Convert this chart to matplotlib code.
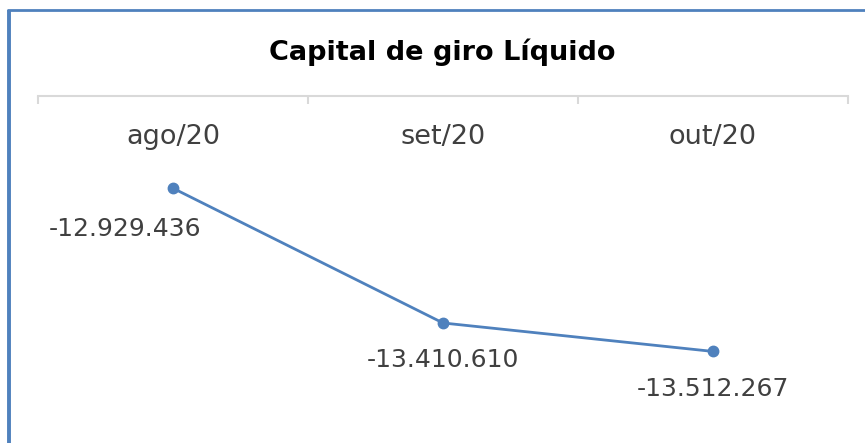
import matplotlib
matplotlib.use("Agg")
import matplotlib.pyplot as plt
from matplotlib.lines import Line2D

# --- data ---------------------------------------------------------------------
months = ["ago/20", "set/20", "out/20"]
values = [-12929436, -13410610, -13512267]
labels = ["-12.929.436", "-13.410.610", "-13.512.267"]
# label offsets in points (first one is pushed left, as in the original)
label_dx = [-34.5, 0, 0]
label_dy = [-29, -27, -27]

C_LINE = "#4F81BD"
C_TEXT = "#404040"
C_AXIS = "#D9D9D9"

W, H = 865, 443
fig = plt.figure(figsize=(W / 100, H / 100), dpi=100)
fig.patch.set_facecolor("white")

# plot area (pixel measures from the reference)
ax = fig.add_axes([38 / W, 1 - 432 / H, (848 - 38) / W, (432 - 96) / H])
x = list(range(len(months)))
ax.plot(x, values, "o-", color=C_LINE, lw=2.0, ms=7.5, zorder=3)

ax.set_xlim(-0.5, len(months) - 0.5)
ax.set_ylim(-13.8e6, -12.6e6)
ax.set_yticks([])

for side in ["left", "right", "bottom"]:
    ax.spines[side].set_visible(False)
ax.spines["top"].set_color(C_AXIS)
ax.spines["top"].set_linewidth(1.5)

# category labels under the top axis line
ax.xaxis.set_ticks_position("top")
ax.set_xticks(x)
ax.set_xticklabels(months, fontsize=19.5, color=C_TEXT)
ax.tick_params(axis="x", which="major", length=0, pad=-39,
               labeltop=True, labelbottom=False)
ax.set_xticks([i - 0.5 for i in range(len(months) + 1)], minor=True)
ax.tick_params(axis="x", which="minor", direction="in", length=6,
               width=1.5, color=C_AXIS, top=True, bottom=False)

for xi, v, lab, dx, dy in zip(x, values, labels, label_dx, label_dy):
    ax.annotate(lab, xy=(xi, v), xytext=(dx, dy), textcoords="offset points",
                ha="center", va="center", fontsize=18, color=C_TEXT)

fig.text(442 / W, 1 - 52 / H, "Capital de giro Líquido", ha="center",
         va="center", fontsize=19.5, fontweight="bold", color="black")

# blue chart border (left and top)
fig.add_artist(Line2D([8.5 / W, 8.5 / W], [0, 1 - 10 / H], color=C_LINE,
                      lw=2.8, transform=fig.transFigure, solid_capstyle="butt"))
fig.add_artist(Line2D([7 / W, 1], [1 - 10 / H, 1 - 10 / H], color=C_LINE,
                      lw=2.0, transform=fig.transFigure, solid_capstyle="butt"))

fig.savefig("out.png", dpi=100)
